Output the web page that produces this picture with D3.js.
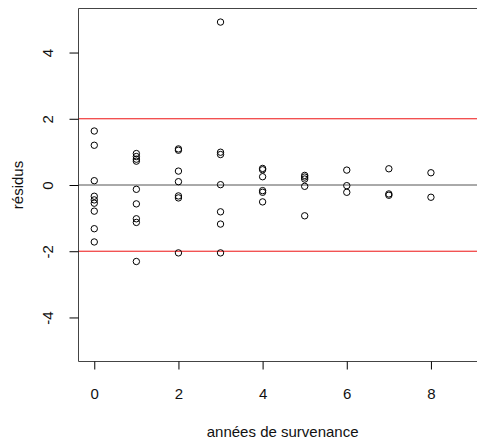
<!DOCTYPE html>
<html><head><meta charset="utf-8">
<script src="https://cdn.jsdelivr.net/npm/d3@7"></script>
<style>
html,body{margin:0;padding:0;background:#fff;}
text{font-family:"Liberation Sans",Arial,sans-serif;}
</style></head>
<body>
<svg id="c" width="477" height="440"></svg>
<script>
const years = [0,1,2,3,4,5,6,7,8];
const residus = [
  [1.63, 1.20, 0.13, -0.34, -0.45, -0.55, -0.79, -1.32, -1.72],
  [0.95, 0.86, 0.78, 0.72, -0.13, -0.57, -1.02, -1.13, -2.31],
  [1.09, 1.05, 0.42, 0.10, -0.33, -0.39, -2.05],
  [4.92, 0.99, 0.92, 0.01, -0.81, -1.18, -2.05],
  [0.50, 0.46, 0.25, -0.17, -0.22, -0.51],
  [0.29, 0.24, 0.18, -0.04, -0.93],
  [0.45, -0.02, -0.22],
  [0.49, -0.27, -0.31],
  [0.37, -0.37]
];
const xTicks = [0,2,4,6,8];
const yTicks = [-4,-2,0,2,4];
const refLines = [{v:0,c:"#555555"},{v:2,c:"#ee1111"},{v:-2,c:"#ee1111"}];
const xLabel = "années de survenance";
const yLabel = "résidus";

const svg = d3.select("#c");
const L = 78.5, T = 8.5, B = 361.5, R = 488.8;
const x = d3.scaleLinear().domain([-0.375, 9.375]).range([L, R]);
const y = d3.scaleLinear().domain([-5.33, 5.33]).range([B, T]);
const fmt = d => String(d);

svg.append("clipPath").attr("id","clip").append("rect")
  .attr("x",L).attr("y",T).attr("width",R-L).attr("height",B-T);

const g = svg.append("g").attr("clip-path","url(#clip)");
g.selectAll("line.ref").data(refLines).join("line").attr("class","ref")
  .attr("x1",L).attr("x2",R)
  .attr("y1",d=>y(d.v)).attr("y2",d=>y(d.v))
  .style("stroke",d=>d.c).style("stroke-width","1px");

const pts = [];
years.forEach((yr,i)=>residus[i].forEach(v=>pts.push({x:yr,v})));
g.selectAll("circle").data(pts).join("circle")
  .attr("cx",d=>x(d.x)).attr("cy",d=>y(d.v)).attr("r",3.2)
  .attr("fill","none").attr("stroke","#000").attr("stroke-width",1);

// box
svg.append("path").attr("d",`M${R},${T}H${L}V${B}H${R}`)
  .attr("fill","none").attr("stroke","#444").attr("stroke-width",1);

// axes
const ax = svg.append("g").attr("transform",`translate(0,${B})`)
  .call(d3.axisBottom(x).tickValues(xTicks).tickSize(8).tickSizeOuter(0).tickFormat(fmt));
ax.select(".domain").remove();
ax.selectAll(".tick line").attr("stroke","#000");
ax.selectAll(".tick text").attr("y",37).attr("dy",0).attr("font-size",15).attr("fill","#111");

const ay = svg.append("g").attr("transform",`translate(${L},0)`)
  .call(d3.axisLeft(y).tickValues(yTicks).tickSize(9).tickSizeOuter(0).tickFormat(fmt));
ay.select(".domain").remove();
ay.selectAll(".tick line").attr("stroke","#000");
ay.selectAll(".tick text").attr("x",0).attr("dy",0).attr("text-anchor","middle")
  .attr("transform","translate(-25.3,0) rotate(-90)").attr("font-size",15).attr("fill","#111");

svg.append("text").attr("x",(L+R)/2 - 1).attr("y",436.5).attr("text-anchor","middle")
  .attr("font-size",15).attr("fill","#111").text(xLabel);
svg.append("text").attr("transform",`translate(23.3,${(T+B)/2}) rotate(-90)`)
  .attr("text-anchor","middle").attr("font-size",15).attr("fill","#111").text(yLabel);
</script>
</body></html>
